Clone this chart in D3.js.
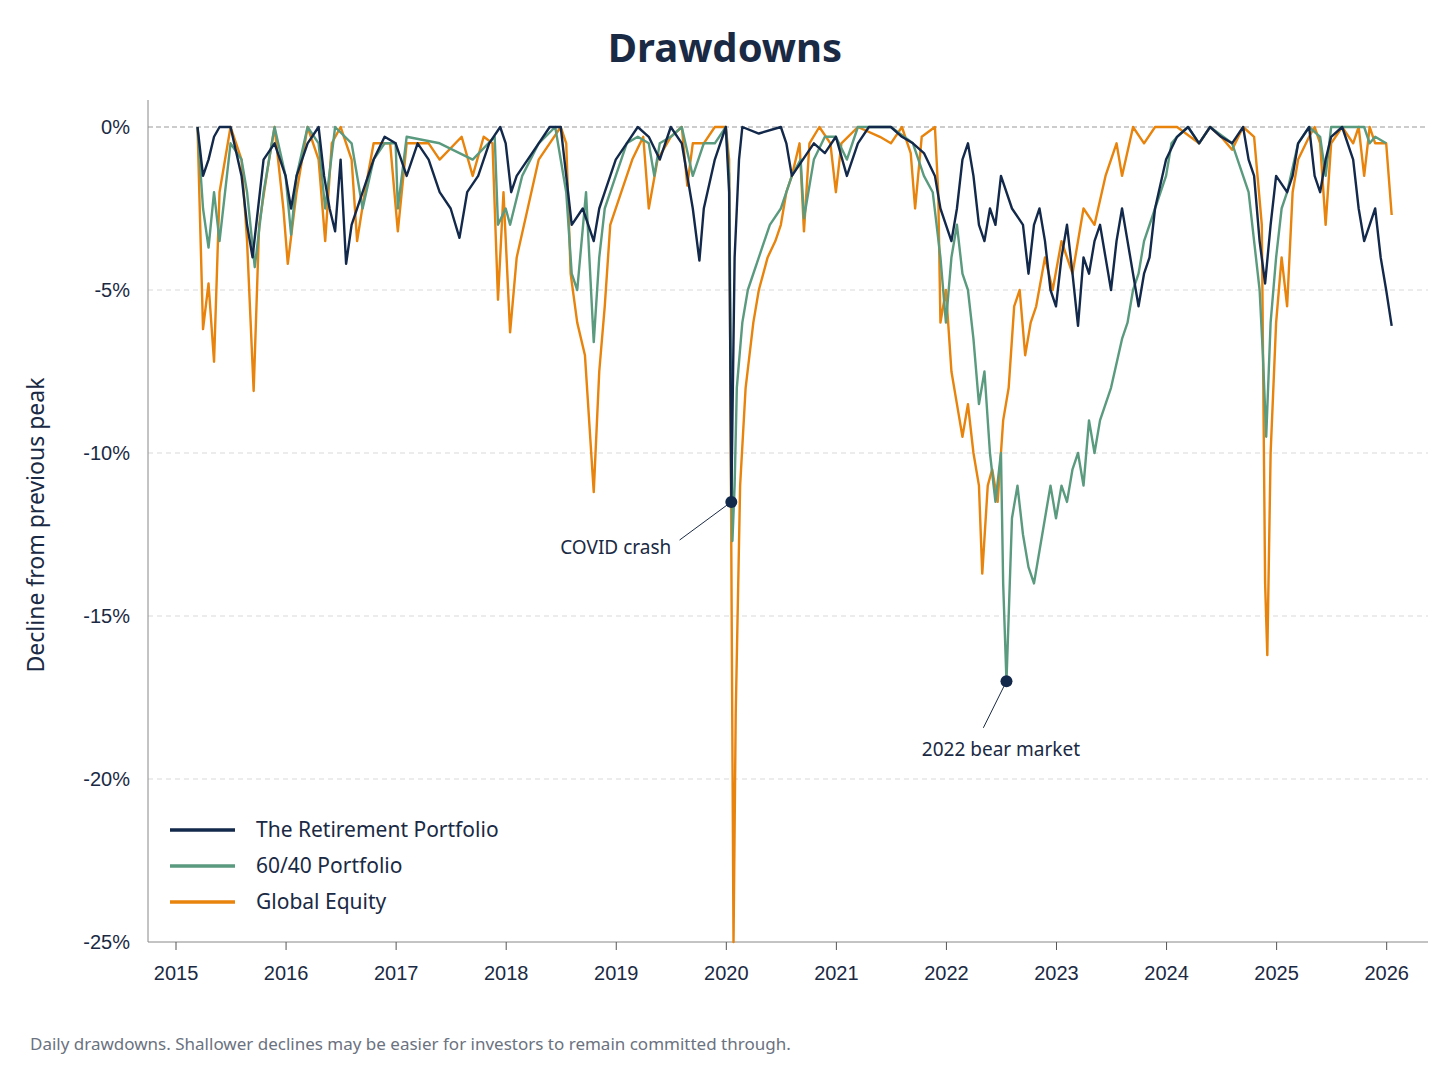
<!DOCTYPE html>
<html>
<head>
<meta charset="utf-8">
<script src="https://cdn.jsdelivr.net/npm/d3@7"></script>
<style>
  body { margin: 0; background: #fff; font-family: "Noto Sans", sans-serif; }
  .grid line { stroke: #d9d9d9; stroke-dasharray: 5,4; }
  .tick text { font-size: 20px; fill: #1a2a44; }
</style>
</head>
<body>
<script>
// [decimal year, drawdown %]
var retirement = [
  [2015.2,0],[2015.25,-1.5],[2015.3,-1],[2015.35,-0.3],[2015.4,0],[2015.5,0],[2015.6,-1.5],[2015.65,-3],[2015.7,-4],
  [2015.75,-2.5],[2015.8,-1],[2015.9,-0.5],[2016.0,-1.5],[2016.05,-2.5],[2016.1,-1.5],[2016.2,-0.5],[2016.3,0],
  [2016.35,-1.5],[2016.4,-2.5],[2016.45,-3.2],[2016.5,-1],[2016.55,-4.2],[2016.6,-3],[2016.7,-2],[2016.8,-1],
  [2016.9,-0.3],[2017.0,-0.5],[2017.1,-1.5],[2017.2,-0.5],[2017.3,-1],[2017.4,-2],[2017.5,-2.5],[2017.58,-3.4],
  [2017.65,-2],[2017.75,-1.5],[2017.85,-0.5],[2017.95,0],[2018.0,-0.5],[2018.05,-2],[2018.1,-1.5],[2018.2,-1],
  [2018.3,-0.5],[2018.4,0],[2018.5,0],[2018.55,-1.5],[2018.6,-3],[2018.7,-2.5],[2018.8,-3.5],[2018.85,-2.5],
  [2018.9,-2],[2019.0,-1],[2019.1,-0.5],[2019.2,0],[2019.3,-0.3],[2019.4,-1],[2019.5,0],[2019.6,-0.5],
  [2019.7,-2.5],[2019.76,-4.1],[2019.8,-2.5],[2019.9,-1],[2020.0,0],[2020.03,-2],[2020.05,-11.5],[2020.08,-4],
  [2020.12,-1],[2020.15,0],[2020.3,-0.2],[2020.5,0],[2020.55,-0.5],[2020.6,-1.5],[2020.7,-1],[2020.8,-0.5],
  [2020.9,-0.8],[2021.0,-0.3],[2021.1,-1.5],[2021.2,-0.5],[2021.3,0],[2021.5,0],[2021.6,-0.3],[2021.7,-0.5],
  [2021.8,-0.8],[2021.9,-1.5],[2021.95,-2.5],[2022.0,-3],[2022.05,-3.5],[2022.1,-2.5],[2022.15,-1],[2022.2,-0.5],
  [2022.25,-1.5],[2022.3,-3],[2022.35,-3.5],[2022.4,-2.5],[2022.45,-3],[2022.5,-1.5],[2022.6,-2.5],[2022.7,-3],
  [2022.75,-4.5],[2022.8,-3],[2022.85,-2.5],[2022.9,-3.5],[2022.95,-5],[2023.0,-5.5],[2023.05,-4],[2023.1,-3],
  [2023.15,-4.5],[2023.2,-6.1],[2023.25,-4],[2023.3,-4.5],[2023.35,-3.5],[2023.4,-3],[2023.45,-4],[2023.5,-5],
  [2023.55,-3.5],[2023.6,-2.5],[2023.65,-3.5],[2023.7,-4.5],[2023.75,-5.5],[2023.8,-4.5],[2023.85,-4],
  [2023.9,-2.5],[2024.0,-1],[2024.1,-0.3],[2024.2,0],[2024.3,-0.5],[2024.4,0],[2024.5,-0.3],[2024.6,-0.5],
  [2024.7,0],[2024.75,-1],[2024.8,-1.5],[2024.85,-3.5],[2024.9,-4.8],[2024.95,-3],[2025.0,-1.5],[2025.1,-2],
  [2025.15,-1.5],[2025.2,-0.5],[2025.3,0],[2025.35,-1.5],[2025.4,-2],[2025.45,-1],[2025.5,-0.3],[2025.6,0],
  [2025.7,-1],[2025.75,-2.5],[2025.8,-3.5],[2025.85,-3],[2025.9,-2.5],[2025.95,-4],[2026.0,-5],[2026.05,-6.1]
];
var sixtyForty = [
  [2015.2,0],[2015.25,-2.5],[2015.3,-3.7],[2015.35,-2],[2015.4,-3.5],[2015.5,-0.5],[2015.6,-1],[2015.65,-2],
  [2015.72,-4.3],[2015.8,-2],[2015.9,0],[2016.0,-1.5],[2016.05,-3.3],[2016.1,-1.5],[2016.2,0],[2016.3,-0.5],
  [2016.36,-2.5],[2016.45,0],[2016.6,-0.5],[2016.7,-2.5],[2016.8,-1],[2016.9,-0.5],[2017.0,-0.5],[2017.02,-2.5],
  [2017.1,-0.3],[2017.4,-0.5],[2017.7,-1],[2017.9,-0.3],[2017.93,-3],[2018.0,-2.5],[2018.04,-3],[2018.15,-1.5],
  [2018.3,-0.5],[2018.45,0],[2018.55,-2],[2018.6,-4.5],[2018.65,-5],[2018.73,-2],[2018.76,-4],[2018.8,-6.6],
  [2018.85,-4],[2018.9,-2.5],[2019.0,-1.5],[2019.1,-0.5],[2019.2,-0.3],[2019.3,-0.5],[2019.35,-1.5],[2019.4,-0.5],
  [2019.5,-0.3],[2019.6,0],[2019.7,-1.5],[2019.8,-0.5],[2019.9,-0.5],[2020.0,0],[2020.03,-1.5],[2020.06,-12.7],
  [2020.08,-11],[2020.1,-8],[2020.15,-6],[2020.2,-5],[2020.3,-4],[2020.4,-3],[2020.5,-2.5],[2020.6,-1.5],
  [2020.68,-1],[2020.71,-2.8],[2020.8,-1],[2020.9,-0.3],[2021.0,-0.3],[2021.1,-1],[2021.2,0],[2021.5,0],
  [2021.7,-0.5],[2021.8,-1.5],[2021.88,-2],[2021.95,-4],[2022.0,-6],[2022.05,-4],[2022.1,-3],[2022.15,-4.5],
  [2022.2,-5],[2022.25,-6.5],[2022.3,-8.5],[2022.35,-7.5],[2022.4,-10],[2022.45,-11.5],[2022.5,-10],
  [2022.52,-14],[2022.55,-17],[2022.6,-12],[2022.65,-11],[2022.7,-12.5],[2022.75,-13.5],[2022.8,-14],
  [2022.85,-13],[2022.9,-12],[2022.95,-11],[2023.0,-12],[2023.05,-11],[2023.1,-11.5],[2023.15,-10.5],
  [2023.2,-10],[2023.25,-11],[2023.3,-9],[2023.35,-10],[2023.4,-9],[2023.5,-8],[2023.6,-6.5],[2023.65,-6],
  [2023.7,-5],[2023.75,-4.5],[2023.8,-3.5],[2023.9,-2.5],[2024.0,-1.5],[2024.05,-0.5],[2024.1,-0.3],[2024.2,0],
  [2024.3,-0.5],[2024.4,0],[2024.6,-0.5],[2024.7,-1.5],[2024.75,-2],[2024.8,-3.5],[2024.85,-5],[2024.88,-7],
  [2024.91,-9.5],[2024.95,-6],[2025.0,-4],[2025.05,-2.5],[2025.1,-2],[2025.2,-0.5],[2025.3,0],[2025.4,-0.3],
  [2025.45,-1.5],[2025.5,0],[2025.8,0],[2025.85,-0.5],[2025.9,-0.3],[2026.0,-0.5]
];
var globalEquity = [
  [2015.2,0],[2015.25,-6.2],[2015.3,-4.8],[2015.35,-7.2],[2015.4,-2],[2015.5,0],[2015.6,-1],[2015.65,-3.5],
  [2015.71,-8.1],[2015.76,-3],[2015.85,-1],[2015.9,0],[2015.98,-2.5],[2016.02,-4.2],[2016.1,-2],[2016.2,0],
  [2016.3,-1],[2016.36,-3.5],[2016.42,-0.5],[2016.5,0],[2016.6,-1],[2016.65,-3.5],[2016.72,-2],[2016.8,-0.5],
  [2016.95,-0.5],[2017.02,-3.2],[2017.1,-0.5],[2017.3,-0.5],[2017.4,-1],[2017.6,-0.3],[2017.7,-1.5],
  [2017.8,-0.3],[2017.88,-0.5],[2017.93,-5.3],[2017.98,-2],[2018.04,-6.3],[2018.1,-4],[2018.2,-2.5],
  [2018.3,-1],[2018.4,-0.5],[2018.5,0],[2018.55,-0.5],[2018.59,-4.5],[2018.65,-6],[2018.72,-7],[2018.8,-11.2],
  [2018.85,-7.5],[2018.9,-5.5],[2018.95,-3],[2019.05,-2],[2019.15,-1],[2019.25,-0.3],[2019.3,-2.5],
  [2019.38,-1],[2019.5,-0.3],[2019.6,0],[2019.65,-1.8],[2019.7,-0.5],[2019.8,-0.5],[2019.9,0],[2020.0,0],
  [2020.03,-1],[2020.05,-13],[2020.07,-25],[2020.09,-18],[2020.13,-11],[2020.18,-8],[2020.25,-6],[2020.3,-5],
  [2020.38,-4],[2020.45,-3.5],[2020.5,-3],[2020.55,-2],[2020.6,-1.5],[2020.67,-0.5],[2020.71,-3.2],
  [2020.76,-0.5],[2020.85,0],[2020.95,-0.5],[2021.0,-2],[2021.05,-0.5],[2021.2,0],[2021.4,-0.3],[2021.5,-0.5],
  [2021.6,0],[2021.68,-0.8],[2021.72,-2.5],[2021.78,-0.3],[2021.9,0],[2021.93,-2],[2021.95,-6],[2022.0,-5],
  [2022.05,-7.5],[2022.1,-8.5],[2022.15,-9.5],[2022.2,-8.5],[2022.25,-10],[2022.3,-11],[2022.33,-13.7],
  [2022.38,-11],[2022.42,-10.5],[2022.47,-11.5],[2022.52,-9],[2022.57,-8],[2022.62,-5.5],[2022.67,-5],
  [2022.72,-7],[2022.77,-6],[2022.82,-5.5],[2022.9,-4],[2022.97,-5],[2023.05,-3.5],[2023.15,-4.5],
  [2023.25,-2.5],[2023.35,-3],[2023.45,-1.5],[2023.55,-0.5],[2023.6,-1.5],[2023.7,0],[2023.8,-0.5],
  [2023.9,0],[2024.1,0],[2024.3,-0.5],[2024.4,0],[2024.5,-0.3],[2024.6,-0.7],[2024.7,0],[2024.8,-0.3],
  [2024.87,-3],[2024.9,-14],[2024.92,-16.2],[2024.95,-10],[2025.0,-6],[2025.05,-4],[2025.1,-5.5],[2025.15,-2],
  [2025.2,-1],[2025.3,-0.3],[2025.35,0],[2025.4,-0.5],[2025.45,-3],[2025.5,-0.5],[2025.6,0],[2025.7,-0.5],
  [2025.75,0],[2025.8,-1.5],[2025.85,0],[2025.9,-0.5],[2026.0,-0.5],[2026.05,-2.7]
];
var seriesNames = ["The Retirement Portfolio", "60/40 Portfolio", "Global Equity"];
var seriesColors = ["#13294b", "#5a9a7f", "#e8830c"];
var yTicks = [0, -5, -10, -15, -20, -25];
var xTicks = d3.range(2015, 2027);
// point, label position and leader start, in data units
var notes = [
  { label: "COVID crash", x: 2020.05, y: -11.5, tx: 2019.0, ty: -13.1, lx: 2019.58, ly: -12.67 },
  { label: "2022 bear market", x: 2022.55, y: -17, tx: 2022.5, ty: -19.3, lx: 2022.34, ly: -18.43 }
];

var W = 1448, H = 1086;
var svg = d3.select("body").append("svg").attr("width", W).attr("height", H);

var x = d3.scaleLinear().domain([2014.75, 2026.38]).range([148, 1428]);
var y = d3.scaleLinear().domain([0, -25]).range([127, 942]);

svg.append("text").attr("x", 725).attr("y", 62).attr("text-anchor", "middle")
  .attr("font-size", 40).attr("font-weight", "bold").attr("fill", "#1a2a44").text("Drawdowns");

// gridlines
svg.append("g").attr("class", "grid").selectAll("line").data(yTicks.slice(1, 5)).join("line")
  .attr("x1", 148).attr("x2", 1428).attr("y1", y).attr("y2", y);
svg.append("line").attr("x1", 148).attr("x2", 1428).attr("y1", y(0)).attr("y2", y(0))
  .attr("stroke", "#999").attr("stroke-dasharray", "5,3");

var yAxis = svg.append("g").attr("transform", "translate(148,0)")
  .call(d3.axisLeft(y).tickValues(yTicks).tickSize(0).tickPadding(18).tickFormat(function(d){ return d + "%"; }));
yAxis.select(".domain").attr("stroke", "#888").attr("d", "M0,100V942");

var xAxis = svg.append("g").attr("transform", "translate(0,942)")
  .call(d3.axisBottom(x).tickValues(xTicks).tickSize(8).tickPadding(16).tickFormat(d3.format("d")));
xAxis.select(".domain").attr("stroke", "#888").attr("d", "M148,0H1428");
xAxis.selectAll(".tick line").attr("stroke", "#555");

svg.append("text").attr("transform", "translate(44,525) rotate(-90)").attr("text-anchor", "middle")
  .attr("font-size", 23).attr("fill", "#1a2a44").text("Decline from previous peak");

var line = d3.line().x(function(d){ return x(d[0]); }).y(function(d){ return y(d[1]); });
var all = [retirement, sixtyForty, globalEquity];
[2, 1, 0].forEach(function(i){
  svg.append("path").datum(all[i]).attr("d", line).attr("fill", "none")
    .attr("stroke", seriesColors[i]).attr("stroke-width", 2.4).attr("stroke-linejoin", "round");
});

notes.forEach(function(n){
  svg.append("line").attr("x1", x(n.lx)).attr("y1", y(n.ly)).attr("x2", x(n.x)).attr("y2", y(n.y))
    .attr("stroke", "#1a2a44").attr("stroke-width", 1);
  svg.append("circle").attr("cx", x(n.x)).attr("cy", y(n.y)).attr("r", 6).attr("fill", "#13294b");
  svg.append("text").attr("x", x(n.tx)).attr("y", y(n.ty)).attr("text-anchor", "middle").attr("font-size", 19)
    .attr("fill", "#1a2a44").text(n.label);
});

var legend = svg.append("g").selectAll("g").data(seriesNames).join("g")
  .attr("transform", function(d, i){ return "translate(170," + (830 + i * 36) + ")"; });
legend.append("line").attr("x2", 65).attr("stroke", function(d, i){ return seriesColors[i]; }).attr("stroke-width", 3.5);
legend.append("text").attr("x", 86).attr("y", 7).attr("font-size", 21).attr("fill", "#1a2a44").text(function(d){ return d; });

svg.append("text").attr("x", 30).attr("y", 1050).attr("font-size", 17).attr("fill", "#6b7280")
  .text("Daily drawdowns. Shallower declines may be easier for investors to remain committed through.");
</script>
</body>
</html>
